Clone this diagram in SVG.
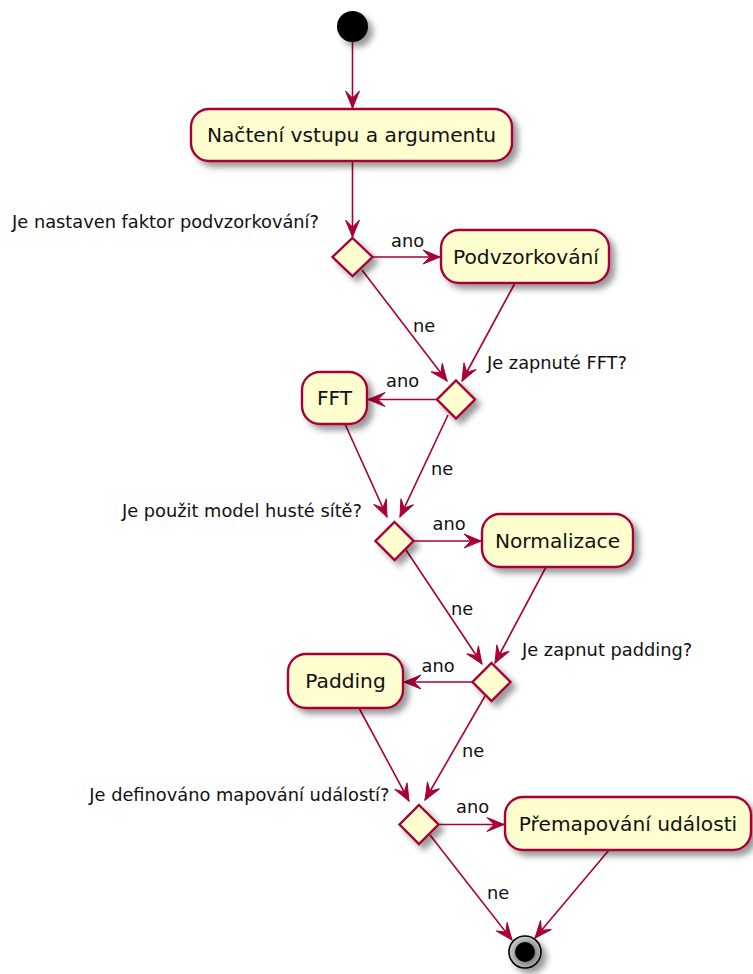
<svg xmlns="http://www.w3.org/2000/svg" width="753" height="974" viewBox="0 0 753 974">
  <defs>
    <filter id="shadow" x="-50%" y="-50%" width="200%" height="200%">
      <feGaussianBlur in="SourceGraphic" stdDeviation="3" result="blur"/>
      <feColorMatrix in="blur" type="matrix" values="0 0 0 0 0  0 0 0 0 0  0 0 0 0 0  0 0 0 .4 0" result="grey"/>
      <feOffset in="grey" dx="5" dy="5" result="off"/>
      <feBlend in="SourceGraphic" in2="off" mode="normal"/>
    </filter>
    <radialGradient id="ring" cx="0.55" cy="0.55" r="0.55">
      <stop offset="0.5" stop-color="#8a8a8a"/>
      <stop offset="1" stop-color="#d0d0d0"/>
    </radialGradient>
    <marker id="ah" markerUnits="userSpaceOnUse" viewBox="-19 -9 21 18" refX="0" refY="0" markerWidth="21" markerHeight="18" orient="auto" overflow="visible">
      <path d="M0,0 L-17,-7 L-10,0 L-17,7 Z" fill="#A80036" stroke="#A80036" stroke-width="1" stroke-linejoin="miter"/>
    </marker>
  </defs>
  <style>
    .act { fill: #FEFECE; stroke: #A80036; stroke-width: 2.4; filter: url(#shadow); }
    .dia { fill: #FEFECE; stroke: #A80036; stroke-width: 2.4; filter: url(#shadow); }
    .lbl { font-family: "DejaVu Sans", Verdana, sans-serif; font-size: 20.2px; fill: #111; text-anchor: middle; }
    .note { font-family: "DejaVu Sans", Verdana, sans-serif; font-size: 17.8px; fill: #111; }
    .end { text-anchor: end; }
    .conn path { fill: none; stroke: #A80036; stroke-width: 1.6; marker-end: url(#ah); }
  </style>
  <rect width="753" height="974" fill="#FFFFFF"/>

  <!-- connectors -->
  <g id="connectors" class="conn">
    <path d="M352.5,42 L352.5,108"/>
    <path d="M352.5,161 L352.5,237"/>
    <path d="M373,257 L440,257"/>
    <path d="M362,270 L447,381"/>
    <path d="M515,283 L462,381"/>
    <path d="M437,399.5 L368,399.5"/>
    <path d="M345,424 L387,517"/>
    <path d="M448,415 L400,517"/>
    <path d="M413,541 L481,541"/>
    <path d="M404,547 L482,664"/>
    <path d="M546,567 L495,663"/>
    <path d="M472,682 L404,682"/>
    <path d="M359,708 L409,801"/>
    <path d="M485,696 L425,800"/>
    <path d="M438,824.5 L504,824.5"/>
    <path d="M430,835 L512,940"/>
    <path d="M609,850 L535,938"/>
  </g>

  <!-- connector labels -->
  <g id="labels">
    <text class="note end" x="319" y="228">Je nastaven faktor podvzorkování?</text>
    <text class="note" x="391" y="247">ano</text>
    <text class="note" x="413" y="332">ne</text>
    <text class="note" x="487" y="369">Je zapnuté FFT?</text>
    <text class="note" x="386" y="387">ano</text>
    <text class="note" x="431" y="475">ne</text>
    <text class="note end" x="362" y="517">Je použit model husté sítě?</text>
    <text class="note" x="432.5" y="530">ano</text>
    <text class="note" x="451" y="615">ne</text>
    <text class="note" x="522" y="656">Je zapnut padding?</text>
    <text class="note" x="421.5" y="671.5">ano</text>
    <text class="note" x="462" y="757">ne</text>
    <text class="note end" x="389.5" y="801">Je definováno mapování událostí?</text>
    <text class="note" x="456" y="812.5">ano</text>
    <text class="note" x="487" y="899">ne</text>
  </g>

  <!-- start -->
  <g id="start">
    <circle cx="352.5" cy="26.5" r="15.5" fill="#000" filter="url(#shadow)"/>
  </g>

  <g id="load">
    <rect class="act" x="191" y="109" width="321" height="52" rx="18" ry="18"/>
    <text class="lbl" x="351.5" y="142">Načtení vstupu a argumentu</text>
  </g>

  <g id="ifDownsample">
    <polygon class="dia" points="352.5,238 372.5,257 352.5,276 332.5,257"/>
  </g>

  <g id="downsample">
    <rect class="act" x="441" y="230" width="168" height="53" rx="18" ry="18"/>
    <text class="lbl" x="526" y="263.5">Podvzorkování</text>
  </g>

  <g id="ifFft">
    <polygon class="dia" points="456,380.5 475,399.5 456,418.5 437,399.5"/>
  </g>

  <g id="fft">
    <rect class="act" x="302" y="372" width="65" height="52" rx="18" ry="18"/>
    <text class="lbl" x="334.5" y="405">FFT</text>
  </g>

  <g id="ifDense">
    <polygon class="dia" points="394.5,522 413.5,541 394.5,560 375.5,541"/>
  </g>

  <g id="normalize">
    <rect class="act" x="482" y="514" width="151" height="53" rx="18" ry="18"/>
    <text class="lbl" x="557.5" y="547.5">Normalizace</text>
  </g>

  <g id="ifPadding">
    <polygon class="dia" points="491.5,663 510.5,682 491.5,701 472.5,682"/>
  </g>

  <g id="padding">
    <rect class="act" x="288" y="654" width="115" height="54" rx="18" ry="18"/>
    <text class="lbl" x="345.5" y="687.5">Padding</text>
  </g>

  <g id="ifMapping">
    <polygon class="dia" points="419,805 438.5,824.5 419,844 399.5,824.5"/>
  </g>

  <g id="remap">
    <rect class="act" x="505" y="797" width="246" height="53" rx="18" ry="18"/>
    <text class="lbl" x="628" y="830.5">Přemapování události</text>
  </g>

  <!-- stop -->
  <g id="stop">
    <circle cx="525" cy="952" r="16" fill="url(#ring)" stroke="#000" stroke-width="1.6" filter="url(#shadow)"/>
    <circle cx="525" cy="952" r="10" fill="#000"/>
  </g>
</svg>
